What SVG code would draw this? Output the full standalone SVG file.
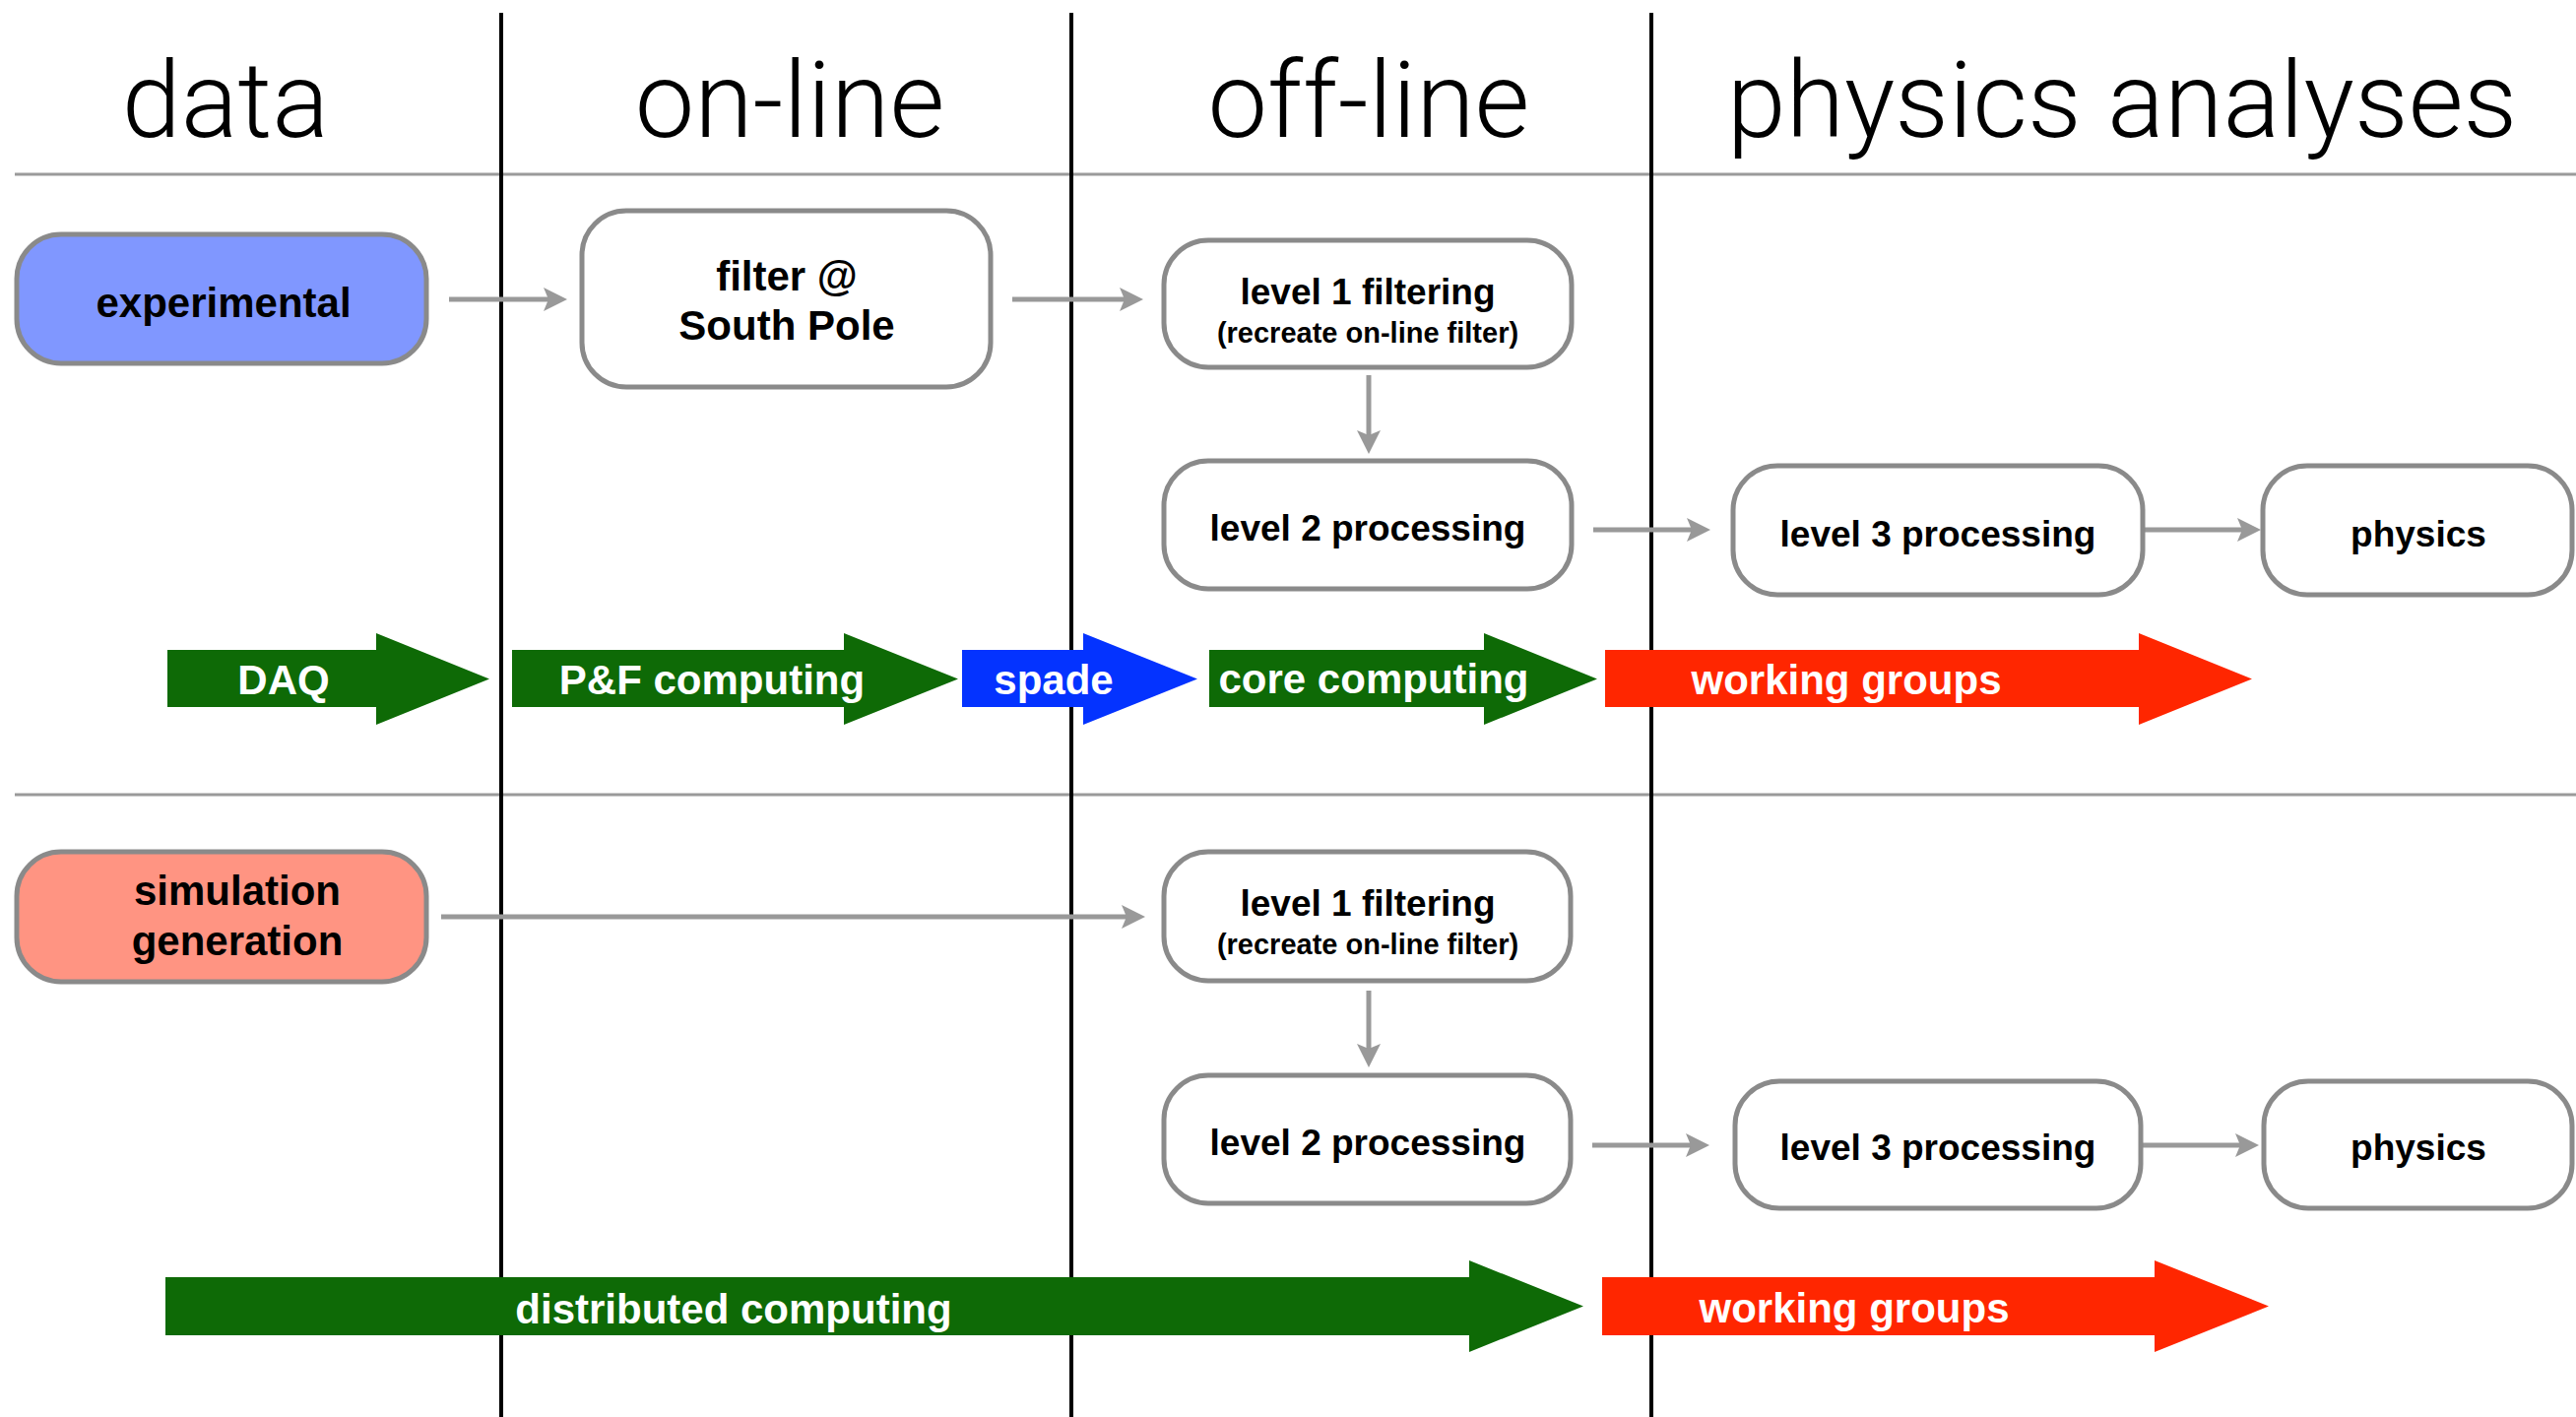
<svg xmlns="http://www.w3.org/2000/svg" width="2616" height="1439" viewBox="0 0 2616 1439">
<style>
.hdr{font-family:Roboto,"Liberation Sans",sans-serif;font-weight:300;font-size:108px;fill:#000;text-anchor:middle}
.box{fill:#fff;stroke:#8a8a8a;stroke-width:5}
.bt{font-family:"Liberation Sans",Arial,sans-serif;font-weight:bold;fill:#000;text-anchor:middle}
.b42{font-size:42px}
.b37{font-size:37px}
.b29{font-size:29px}
.band{font-family:"Liberation Sans",Arial,sans-serif;font-weight:bold;font-size:42px;fill:#fff;text-anchor:middle}
.conn{stroke:#999;stroke-width:5;fill:none;marker-end:url(#ah)}
.green{fill:#0e6a06}
.blue{fill:#0433ff}
.red{fill:#ff2600}
</style>
<defs>
<marker id="ah" markerUnits="userSpaceOnUse" viewBox="-14 -14 30 28" markerWidth="30" markerHeight="28" refX="0" refY="0" orient="auto" overflow="visible">
<path d="M14,0 L-10,-12 L-5,0 L-10,12 Z" fill="#999"/>
</marker>
</defs>
<rect width="2616" height="1439" fill="#fff"/>
<g id="grid">
<line x1="15" y1="177" x2="2616" y2="177" stroke="#9a9a9a" stroke-width="3"/>
<line x1="15" y1="807" x2="2616" y2="807" stroke="#9a9a9a" stroke-width="3"/>
<line x1="509" y1="13" x2="509" y2="1439" stroke="#000" stroke-width="4"/>
<line x1="1088" y1="13" x2="1088" y2="1439" stroke="#000" stroke-width="4"/>
<line x1="1677" y1="13" x2="1677" y2="1439" stroke="#000" stroke-width="4"/>
</g>
<g id="headers">
<text class="hdr" x="229" y="139">data</text>
<text class="hdr" x="802" y="139">on-line</text>
<text class="hdr" x="1390" y="139">off-line</text>
<text class="hdr" x="2155" y="139">physics analyses</text>
</g>
<g id="connectors">
<line class="conn" x1="456" y1="304" x2="562" y2="304"/>
<line class="conn" x1="1028" y1="304" x2="1147" y2="304"/>
<line class="conn" x1="1390" y1="381" x2="1390" y2="447"/>
<line class="conn" x1="1618" y1="538" x2="1723" y2="538"/>
<line class="conn" x1="2176" y1="538" x2="2282" y2="538"/>
<line class="conn" x1="448" y1="931" x2="1149" y2="931"/>
<line class="conn" x1="1390" y1="1006" x2="1390" y2="1070"/>
<line class="conn" x1="1617" y1="1163" x2="1722" y2="1163"/>
<line class="conn" x1="2174" y1="1163" x2="2280" y2="1163"/>
</g>
<g id="experimental">
<rect class="box" x="17" y="238" width="416" height="131" rx="45" style="fill:#8097ff"/>
<text class="bt b42" x="227" y="322">experimental</text>
</g>
<g id="filter">
<rect class="box" x="591" y="214" width="415" height="179" rx="45"/>
<text class="bt b42" x="799" y="295">filter @</text>
<text class="bt b42" x="799" y="345">South Pole</text>
</g>
<g id="level1-exp">
<rect class="box" x="1182" y="244" width="414" height="129" rx="45"/>
<text class="bt b37" x="1389" y="309">level 1 filtering</text>
<text class="bt b29" x="1389" y="348">(recreate on-line filter)</text>
</g>
<g id="level2-exp">
<rect class="box" x="1182" y="468" width="414" height="130" rx="45"/>
<text class="bt b37" x="1389" y="549">level 2 processing</text>
</g>
<g id="level3-exp">
<rect class="box" x="1760" y="473" width="416" height="131" rx="45"/>
<text class="bt b37" x="1968" y="555">level 3 processing</text>
</g>
<g id="physics-exp">
<rect class="box" x="2298" y="473" width="314" height="131" rx="45"/>
<text class="bt b37" x="2456" y="555">physics</text>
</g>
<g id="simulation">
<rect class="box" x="17" y="865" width="416" height="132" rx="45" style="fill:#ff9482"/>
<text class="bt b42" x="241" y="919">simulation</text>
<text class="bt b42" x="241" y="970">generation</text>
</g>
<g id="level1-sim">
<rect class="box" x="1182" y="865" width="413" height="131" rx="45"/>
<text class="bt b37" x="1389" y="930">level 1 filtering</text>
<text class="bt b29" x="1389" y="969">(recreate on-line filter)</text>
</g>
<g id="level2-sim">
<rect class="box" x="1182" y="1092" width="413" height="130" rx="45"/>
<text class="bt b37" x="1389" y="1173">level 2 processing</text>
</g>
<g id="level3-sim">
<rect class="box" x="1762" y="1098" width="412" height="129" rx="45"/>
<text class="bt b37" x="1968" y="1178">level 3 processing</text>
</g>
<g id="physics-sim">
<rect class="box" x="2299" y="1098" width="313" height="129" rx="45"/>
<text class="bt b37" x="2456" y="1178">physics</text>
</g>
<g id="band-daq">
<polygon class="green" points="170,660 382,660 382,643 497,689.5 382,736 382,718 170,718"/>
<text class="band" x="288" y="705">DAQ</text>
</g>
<g id="band-pf">
<polygon class="green" points="520,660 857,660 857,643 973,689.5 857,736 857,718 520,718"/>
<text class="band" x="723" y="705">P&amp;F computing</text>
</g>
<g id="band-spade">
<polygon class="blue" points="977,660 1100,660 1100,643 1216,689.5 1100,736 1100,718 977,718"/>
<text class="band" x="1070" y="705">spade</text>
</g>
<g id="band-core">
<polygon class="green" points="1228,660 1507,660 1507,643 1622,689.5 1507,736 1507,718 1228,718"/>
<text class="band" x="1395" y="704">core computing</text>
</g>
<g id="band-wg1">
<polygon class="red" points="1630,660 2172,660 2172,643 2287,689.5 2172,736 2172,718 1630,718"/>
<text class="band" x="1875" y="705">working groups</text>
</g>
<g id="band-dist">
<polygon class="green" points="168,1297 1492,1297 1492,1280 1608,1326.5 1492,1373 1492,1356 168,1356"/>
<text class="band" x="745" y="1344">distributed computing</text>
</g>
<g id="band-wg2">
<polygon class="red" points="1627,1297 2188,1297 2188,1280 2304,1326.5 2188,1373 2188,1356 1627,1356"/>
<text class="band" x="1883" y="1343">working groups</text>
</g>
</svg>
